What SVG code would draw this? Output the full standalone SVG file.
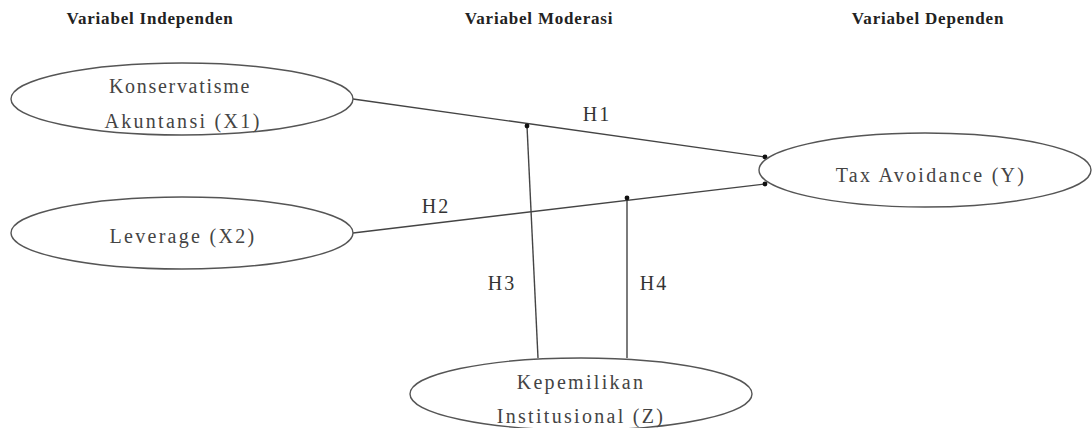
<svg xmlns="http://www.w3.org/2000/svg" width="1092" height="428" viewBox="0 0 1092 428">
<style>
.hdr{font-family:"Liberation Serif","Times New Roman",serif;font-weight:bold;font-size:17px;letter-spacing:0.8px;fill:#222;text-anchor:middle}
.t{font-family:"Liberation Serif","Times New Roman",serif;font-size:20px;letter-spacing:2.3px;fill:#444;text-anchor:middle}
.h{font-family:"Liberation Serif","Times New Roman",serif;font-size:20px;letter-spacing:2px;fill:#333;text-anchor:middle}
.n{fill:#fff;stroke:#555;stroke-width:1.4}
.c{stroke:#444;stroke-width:1.4;fill:none}
.d{fill:#111}
</style>
<rect width="1092" height="428" fill="#fff"/>
<g id="headers">
<text class="hdr" x="150" y="24">Variabel Independen</text>
<text class="hdr" x="539" y="24">Variabel Moderasi</text>
<text class="hdr" x="928" y="24">Variabel Dependen</text>
</g>
<g id="connectors">
<line class="c" x1="353" y1="99" x2="765" y2="157"/>
<line class="c" x1="353" y1="233" x2="765" y2="184"/>
<line class="c" x1="538" y1="358" x2="527" y2="126"/>
<line class="c" x1="627" y1="358" x2="627" y2="198"/>
<circle class="d" cx="527" cy="126" r="2.4"/>
<circle class="d" cx="627" cy="198" r="2.4"/>
<circle class="d" cx="765" cy="157" r="2.4"/>
<circle class="d" cx="765" cy="184" r="2.4"/>
<text class="h" x="597" y="121">H1</text>
<text class="h" x="436" y="213">H2</text>
<text class="h" x="502" y="290">H3</text>
<text class="h" x="654" y="290">H4</text>
</g>
<g id="x1">
<ellipse class="n" cx="182" cy="99" rx="171" ry="36"/>
<text class="t" x="180" y="93" style="letter-spacing:1.7px">Konservatisme</text>
<text class="t" x="183" y="128">Akuntansi (X1)</text>
</g>
<g id="x2">
<ellipse class="n" cx="182" cy="233" rx="171" ry="36"/>
<text class="t" x="183" y="243">Leverage (X2)</text>
</g>
<g id="y">
<ellipse class="n" cx="925" cy="170" rx="166" ry="37"/>
<text class="t" x="931" y="182">Tax Avoidance (Y)</text>
</g>
<g id="z">
<ellipse class="n" cx="581" cy="394" rx="171" ry="36"/>
<text class="t" x="581" y="389">Kepemilikan</text>
<text class="t" x="581" y="423">Institusional (Z)</text>
</g>
</svg>
